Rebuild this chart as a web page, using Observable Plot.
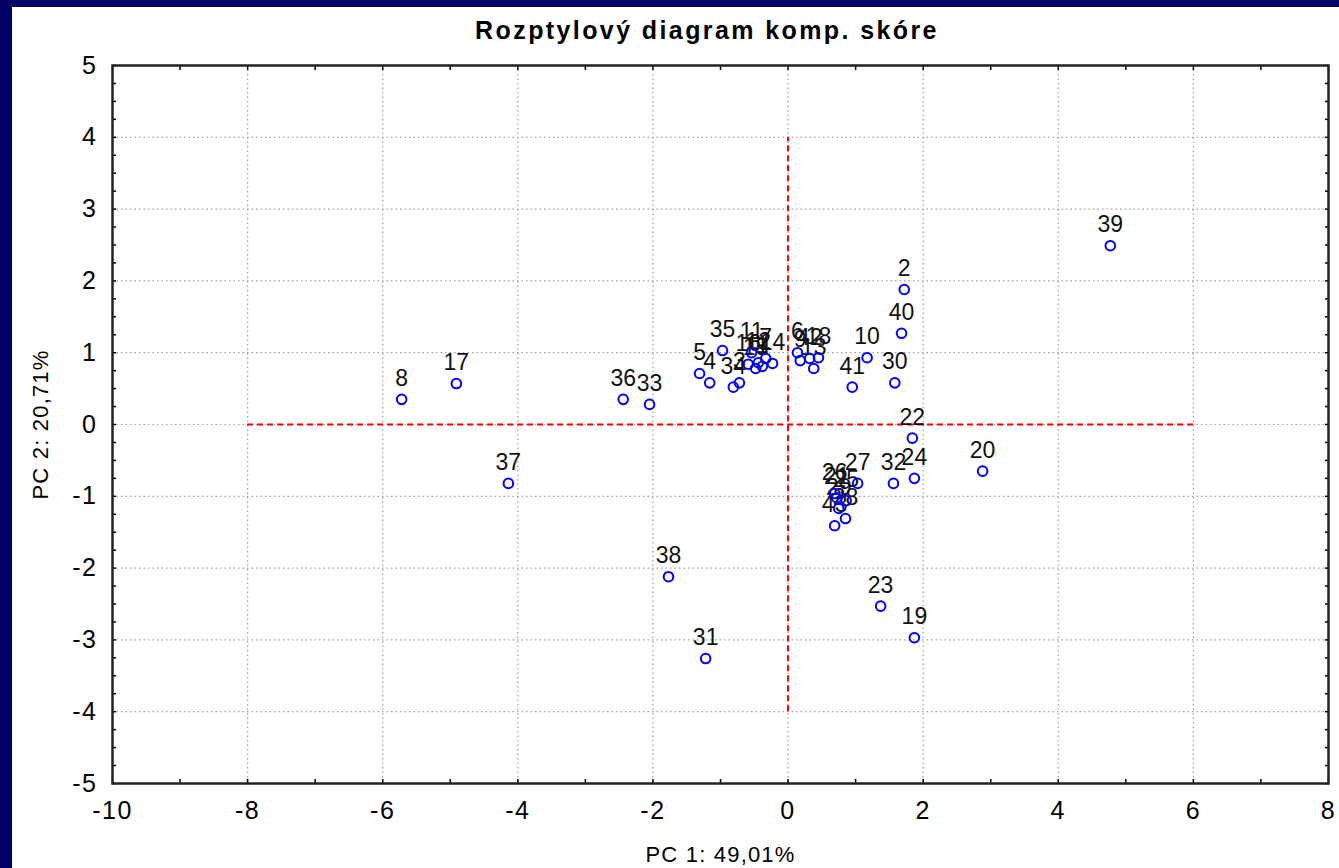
<!DOCTYPE html>
<html>
<head>
<meta charset="utf-8">
<script src="https://cdn.jsdelivr.net/npm/d3@7"></script>
<script src="https://cdn.jsdelivr.net/npm/@observablehq/plot@0.6"></script>
<style>
  html, body { margin: 0; padding: 0; background: #000066; width: 1339px; height: 868px; overflow: hidden; }
  #panel { position: absolute; left: 12px; top: 7px; width: 1327px; height: 861px; background: #ffffff; }
  #title { height: 40px; line-height: 46px; text-align: center; padding-left: 63px; box-sizing: border-box;
           font-family: "Liberation Sans", Arial, sans-serif; font-weight: bold; font-size: 25px; color: #000; letter-spacing: 2.4px; }
  svg { display: block; }
</style>
</head>
<body>
<div id="panel"><div id="title">Rozptylový diagram komp. skóre</div><div id="chart"></div></div>
<script>
// Point labels and PC scores
const labels = ["39","2","40","10","30","41","22","24","32","20","23","19","38","31","37","8","17","36","33",
  "35","5","4","34","3","11","16","15","12","1","7","14","6","9","42","18","13",
  "26","27","21","25","29","28","43"];
const pc1 = [4.77,1.72,1.68,1.17,1.58,0.95,1.84,1.87,1.56,2.88,1.37,1.87,-1.77,-1.22,-4.14,-5.72,-4.91,-2.44,-2.05,
  -0.97,-1.31,-1.16,-0.81,-0.72,-0.54,-0.59,-0.48,-0.44,-0.38,-0.33,-0.23,0.14,0.18,0.32,0.45,0.38,
  0.69,1.03,0.72,0.86,0.75,0.85,0.69];
const pc2 = [2.49,1.88,1.27,0.93,0.58,0.52,-0.19,-0.75,-0.82,-0.65,-2.53,-2.97,-2.12,-3.26,-0.82,0.35,0.57,0.35,0.28,
  1.03,0.71,0.58,0.52,0.58,1.00,0.84,0.78,0.86,0.81,0.92,0.85,1.00,0.89,0.92,0.93,0.78,
  -0.96,-0.82,-1.02,-1.06,-1.17,-1.31,-1.41];

// Axes
const xTicks = [-10,-8,-6,-4,-2,0,2,4,6,8];
const yTicks = [-5,-4,-3,-2,-1,0,1,2,3,4,5];
const xGrid = [-8,-6,-4,-2,0,2,4,6];
const yGrid = [-4,-3,-2,-1,0,1,2,3,4];
const xMinor = d3.range(-10, 8.001, 1);
const yMinor = d3.range(-5, 5.001, 0.25);

// Red reference cross
const hRef = [{y: 0, x1: -8, x2: 6}];
const vRef = [{x: 0, y1: -4, y2: 4}];

const points = labels.map((l, i) => ({label: l, x: pc1[i], y: pc2[i]}));
const font = "Liberation Sans, Arial, sans-serif";

const chart = Plot.plot({
  width: 1327,
  height: 821,
  marginLeft: 100,
  marginRight: 11,
  marginTop: 18,
  marginBottom: 85,
  style: {fontFamily: font, background: "white", color: "black"},
  x: {domain: [-10, 8]},
  y: {domain: [-5, 5]},
  marks: [
    Plot.gridX(xGrid, {stroke: "#a0a0a0", strokeOpacity: 1, strokeDasharray: "1.5,3", strokeWidth: 1.2}),
    Plot.gridY(yGrid, {stroke: "#a0a0a0", strokeOpacity: 1, strokeDasharray: "1.5,3", strokeWidth: 1.2}),
    Plot.ruleY(hRef, {y: "y", x1: "x1", x2: "x2", stroke: "#ff0000", strokeWidth: 2, strokeDasharray: "6,4"}),
    Plot.ruleX(vRef, {x: "x", y1: "y1", y2: "y2", stroke: "#ff0000", strokeWidth: 2, strokeDasharray: "6,4"}),
    Plot.axisX({anchor: "bottom", ticks: xMinor, tickSize: -4, tickFormat: () => "", label: null, strokeWidth: 1.5}),
    Plot.axisX({anchor: "top", ticks: xMinor, tickSize: -4, tickFormat: () => "", label: null, strokeWidth: 1.5}),
    Plot.axisY({anchor: "left", ticks: yMinor, tickSize: -4, tickFormat: () => "", label: null, strokeWidth: 1.5}),
    Plot.axisY({anchor: "right", ticks: yMinor, tickSize: -4, tickFormat: () => "", label: null, strokeWidth: 1.5}),
    Plot.axisX({anchor: "bottom", ticks: xTicks, tickSize: 0, tickPadding: 18, fontSize: 25, tickFormat: d => String(d).replace("−","-"),
      label: "PC 1: 49,01%", labelAnchor: "center", labelArrow: "none", labelOffset: 78}),
    Plot.axisY({anchor: "left", ticks: yTicks, tickSize: 0, tickPadding: 15, fontSize: 25, tickFormat: d => String(d),
      label: "PC 2: 20,71%", labelAnchor: "center", labelArrow: "none", labelOffset: 80}),
    Plot.frame({stroke: "#222", strokeWidth: 2.5}),
    Plot.text(points, {x: "x", y: "y", text: "label", dy: -21, fontSize: 23, fill: "#111"}),
    Plot.dot(points, {x: "x", y: "y", r: 4.8, stroke: "#0000ff", strokeWidth: 2, fill: "none"})
  ]
});
// axis titles and tick labels: wider lettering as in the reference
chart.querySelectorAll("g[aria-label='x-axis label'] text, g[aria-label='y-axis label'] text").forEach(t => {
  t.setAttribute("font-size", 22);
  t.setAttribute("letter-spacing", "1.2");
});
chart.querySelectorAll("g[aria-label='x-axis tick label'] text, g[aria-label='y-axis tick label'] text").forEach(t => {
  t.setAttribute("letter-spacing", "1.5");
});
document.getElementById("chart").appendChild(chart);
</script>
</body>
</html>
